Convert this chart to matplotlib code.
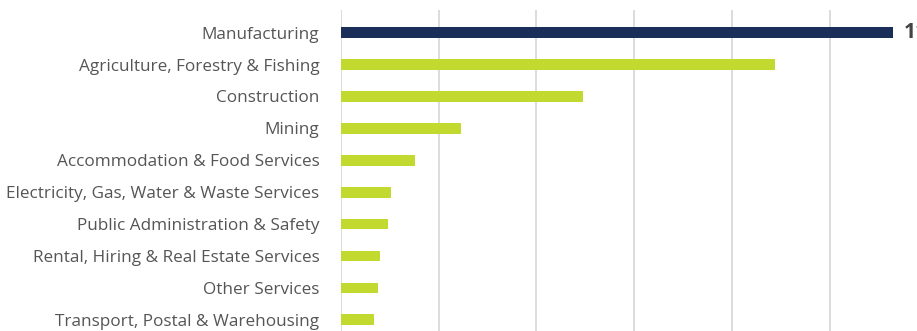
import matplotlib
matplotlib.use("Agg")
import matplotlib.pyplot as plt

plt.rcParams['font.family'] = ['Open Sans', 'DejaVu Sans']

industries = [
    "Manufacturing",
    "Agriculture, Forestry & Fishing",
    "Construction",
    "Mining",
    "Accommodation & Food Services",
    "Electricity, Gas, Water & Waste Services",
    "Public Administration & Safety",
    "Rental, Hiring & Real Estate Services",
    "Other Services",
    "Transport, Postal & Warehousing",
]
shares = [11.3, 8.88, 4.95, 2.46, 1.51, 1.02, 0.96, 0.80, 0.76, 0.68]
highlight = "Manufacturing"
grid_ticks = [0, 2, 4, 6, 8, 10]

NAVY = "#1b2e5a"
LIME = "#c2d92f"

W, H = 917, 331
fig = plt.figure(figsize=(W / 100, H / 100), dpi=100)
ax = fig.add_axes([341 / W, 0, (W - 341) / W, (H - 10) / H])

ypos = list(range(len(industries)))
colors = [NAVY if name == highlight else LIME for name in industries]
ax.barh(ypos, shares, height=0.335, color=colors, zorder=3)

ax.set_ylim(9.35, -0.71)
ax.set_xlim(0, (W - 341) / 48.85)

ax.set_yticks(ypos)
ax.set_yticklabels(industries, fontsize=12.3, color="#555555")
ax.tick_params(axis="y", length=0, pad=15.5)
ax.set_xticks(grid_ticks)
ax.tick_params(axis="x", length=0, labelbottom=False)
ax.grid(axis="x", color="#dcdcdc", linewidth=1.4, zorder=0)
for s in ax.spines.values():
    s.set_visible(False)

# value label for the highlighted bar
i = industries.index(highlight)
ax.annotate(f"{shares[i]:.1f}%", xy=(shares[i], i), xytext=(8, 0),
            textcoords="offset points", va="center", ha="left",
            fontsize=15, fontweight="bold", color="#444444",
            annotation_clip=False)

fig.savefig("out.png", dpi=100)
